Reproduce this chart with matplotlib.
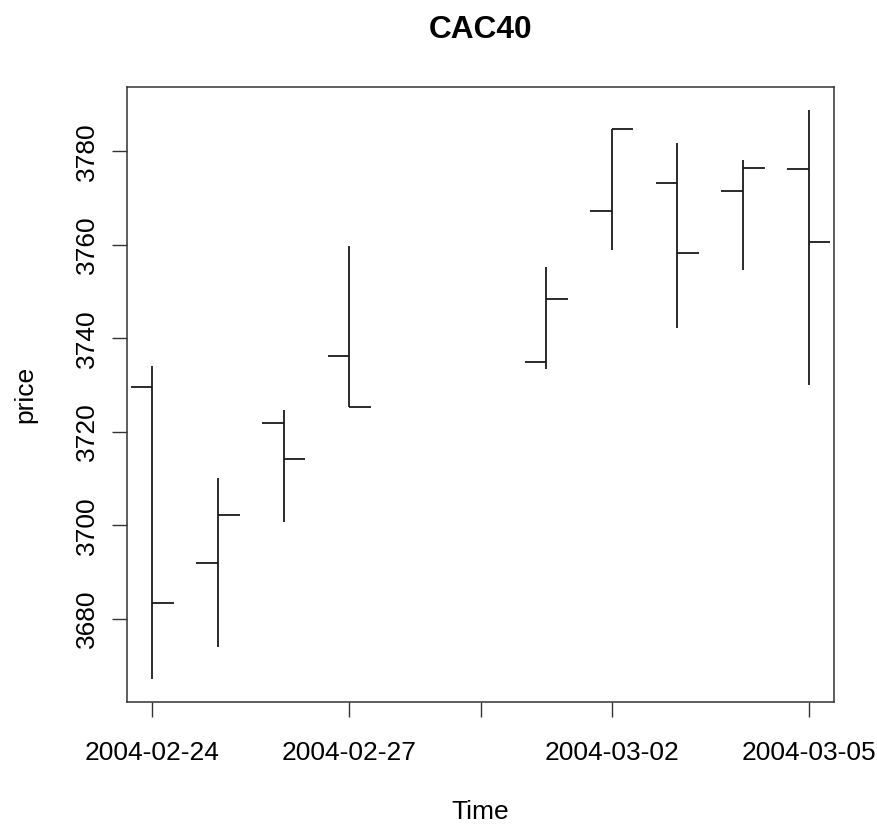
import matplotlib
matplotlib.use("Agg")
import matplotlib.pyplot as plt
import matplotlib.dates as mdates
import pandas as pd

plt.rcParams['font.family'] = ['Liberation Sans', 'DejaVu Sans']

dates = ["2004-02-24", "2004-02-25", "2004-02-26", "2004-02-27", "2004-03-01",
         "2004-03-02", "2004-03-03", "2004-03-04", "2004-03-05"]
opens = [3729.7, 3692.0, 3721.8, 3736.2, 3734.9, 3767.3, 3773.3, 3771.6, 3776.2]
highs = [3734.1, 3710.1, 3724.7, 3759.8, 3755.3, 3784.8, 3781.8, 3778.1, 3788.8]
lows = [3667.1, 3674.1, 3700.8, 3725.3, 3733.4, 3758.9, 3742.3, 3754.6, 3730.0]
closes = [3683.4, 3702.3, 3714.3, 3725.3, 3748.4, 3784.8, 3758.2, 3776.5, 3760.7]

tick_dates = ["2004-02-24", "2004-02-27", "2004-02-29", "2004-03-02", "2004-03-05"]
tick_labels = ["2004-02-24", "2004-02-27", "", "2004-03-02", "2004-03-05"]
y_ticks = [3680, 3700, 3720, 3740, 3760, 3780]

x = mdates.date2num(pd.to_datetime(dates))
xt = mdates.date2num(pd.to_datetime(tick_dates))

fig = plt.figure(figsize=(8.77, 8.24), dpi=100)
ax = fig.add_axes([0.1445, 0.148, 0.8068, 0.746])

w = 0.33
col = '#1a1a1a'
lw = 1.3
for xi, o, h, l, c in zip(x, opens, highs, lows, closes):
    ax.plot([xi, xi], [l, h], color=col, lw=lw, solid_capstyle='butt')
    ax.plot([xi - w, xi], [o, o], color=col, lw=lw, solid_capstyle='butt')
    ax.plot([xi, xi + w], [c, c], color=col, lw=lw, solid_capstyle='butt')

span = x[-1] - x[0]
ax.set_xlim(x[0] - 0.04 * span * 0.97, x[-1] + 0.04 * span * 0.97)
yr = max(highs) - min(lows)
ax.set_ylim(min(lows) - 0.04 * yr, max(highs) + 0.04 * yr)

fs = 19
ax.set_xticks(xt)
ax.set_xticklabels(tick_labels, fontsize=fs)
ax.set_yticks(y_ticks)
ax.set_yticklabels([str(v) for v in y_ticks], fontsize=fs, rotation=90, va='center')

ax.tick_params(axis='both', direction='out', length=11, width=1.0, color='#333333', pad=17)
ax.tick_params(axis='y', pad=9)
for s in ax.spines.values():
    s.set_color('#333333')
    s.set_linewidth(1.1)

fig.text(0.548, 0.0146, "Time", ha='center', va='center', fontsize=fs)
fig.text(0.029, 0.521, "price", ha='center', va='center', rotation=90, fontsize=fs)
fig.text(0.548, 0.963, "CAC40", ha='center', va='center', fontsize=22.8, fontweight='bold')

fig.savefig("out.png", dpi=100)
